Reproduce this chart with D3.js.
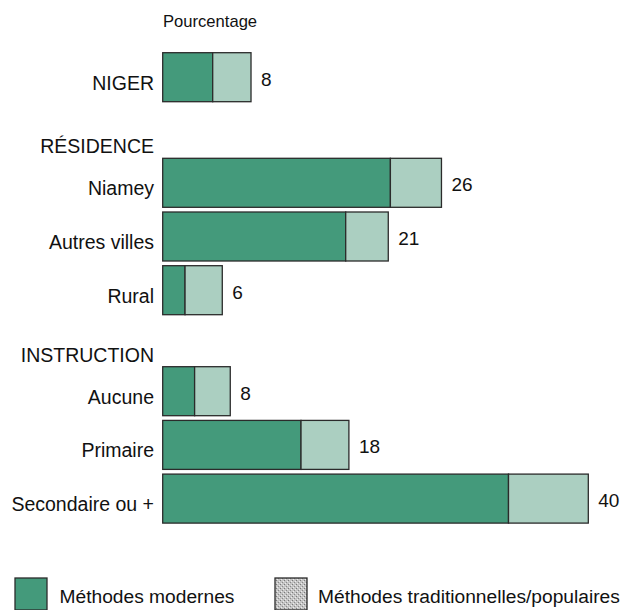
<!DOCTYPE html>
<html>
<head>
<meta charset="utf-8">
<script src="https://cdn.jsdelivr.net/npm/d3@7"></script>
<style>
  html, body { margin: 0; padding: 0; background: #fff; }
  svg { display: block; font-family: "Liberation Sans", Arial, Helvetica, sans-serif; }
</style>
</head>
<body>
<svg id="chart" width="628" height="610"></svg>
<script>
// ---- data ----
const groupNames = [null, "RÉSIDENCE", "INSTRUCTION"];
const categories = [
  ["NIGER"],
  ["Niamey", "Autres villes", "Rural"],
  ["Aucune", "Primaire", "Secondaire ou +"]
];
const modernValues = [
  [4.7],
  [21.4, 17.2, 2.1],
  [3.0, 13.0, 32.5]
];
const traditionalValues = [
  [3.6],
  [4.8, 4.0, 3.5],
  [3.35, 4.5, 7.5]
];
const totalLabels = [
  ["8"],
  ["26", "21", "6"],
  ["8", "18", "40"]
];
const seriesNames = ["Méthodes modernes", "Méthodes traditionnelles/populaires"];
const axisTitle = "Pourcentage";

// ---- style ----
const colModern = "#449a7b";
const colTrad = "#abcfc1";
const colStroke = "#2b2b2b";

const svg = d3.select("#chart");

const defs = svg.append("defs");
const pat = defs.append("pattern")
  .attr("id", "stipple").attr("patternUnits", "userSpaceOnUse")
  .attr("width", 4).attr("height", 4);
pat.append("rect").attr("width", 4).attr("height", 4).attr("fill", "#c4c4c4");
pat.append("rect").attr("x", 0).attr("y", 0).attr("width", 1).attr("height", 1).attr("fill", "#7a7a7a");
pat.append("rect").attr("x", 2).attr("y", 2).attr("width", 1).attr("height", 1).attr("fill", "#8a8a8a");
pat.append("rect").attr("x", 3).attr("y", 1).attr("width", 1).attr("height", 1).attr("fill", "#ececec");
pat.append("rect").attr("x", 1).attr("y", 3).attr("width", 1).attr("height", 1).attr("fill", "#ececec");

const x = d3.scaleLinear().domain([0, 40]).range([162.7, 588.3]);

const groupTops = [52.7, 158.3, 366.7];
const step = 53.7, barH = 49;
const gap = step - barH;
const labelRight = 154;

svg.append("text")
  .attr("x", 163).attr("y", 27.3)
  .attr("font-size", 16.6).attr("fill", "#111")
  .text(axisTitle);

categories.forEach((cats, gi) => {
  const top = groupTops[gi];
  const y = d3.scaleBand()
    .domain(cats)
    .range([top - gap / 2, top - gap / 2 + cats.length * step])
    .paddingInner(gap / step)
    .paddingOuter(gap / step / 2);

  const g = svg.append("g");

  if (groupNames[gi]) {
    g.append("text")
      .attr("x", labelRight).attr("y", top - 5)
      .attr("text-anchor", "end")
      .attr("font-size", 19.5).attr("fill", "#111")
      .text(groupNames[gi]);
  }

  const rows = cats.map((c, i) => ({
    cat: c, m: modernValues[gi][i], t: traditionalValues[gi][i], label: totalLabels[gi][i]
  }));

  const row = g.selectAll("g.row").data(rows).join("g").attr("class", "row");

  row.append("rect")
    .attr("x", x(0))
    .attr("y", d => y(d.cat))
    .attr("width", d => x(d.m) - x(0))
    .attr("height", y.bandwidth())
    .attr("fill", colModern)
    .attr("stroke", colStroke).attr("stroke-width", 1.3);

  row.append("rect")
    .attr("x", d => x(d.m))
    .attr("y", d => y(d.cat))
    .attr("width", d => x(d.m + d.t) - x(d.m))
    .attr("height", y.bandwidth())
    .attr("fill", colTrad)
    .attr("stroke", colStroke).attr("stroke-width", 1.3);

  row.append("text")
    .attr("x", labelRight)
    .attr("y", d => y(d.cat) + y.bandwidth() / 2 + 12.5)
    .attr("text-anchor", "end")
    .attr("font-size", 19.5).attr("fill", "#111")
    .text(d => d.cat);

  row.append("text")
    .attr("x", d => x(d.m + d.t) + 10)
    .attr("y", d => y(d.cat) + y.bandwidth() / 2 + 8.5)
    .attr("font-size", 19).attr("fill", "#111")
    .text(d => d.label);
});

// ---- legend ----
const legend = svg.append("g");
const legendItems = [
  { name: seriesNames[0], fill: colModern, sx: 15, tx: 59.5 },
  { name: seriesNames[1], fill: "url(#stipple)", sx: 275, tx: 318 }
];
legend.selectAll("rect").data(legendItems).join("rect")
  .attr("x", d => d.sx).attr("y", 578)
  .attr("width", 32).attr("height", 32)
  .attr("fill", d => d.fill)
  .attr("stroke", colStroke).attr("stroke-width", 1.3);
legend.selectAll("text").data(legendItems).join("text")
  .attr("x", d => d.tx).attr("y", 602.5)
  .attr("font-size", 19.2).attr("fill", "#111")
  .text(d => d.name);
</script>
</body>
</html>
